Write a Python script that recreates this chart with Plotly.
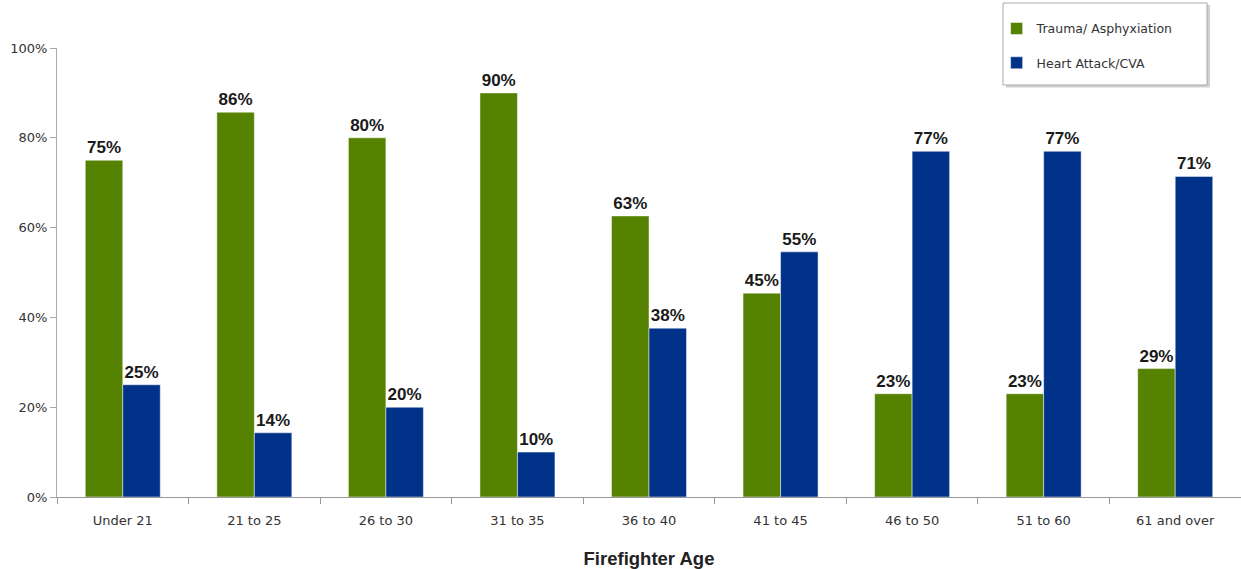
import plotly.graph_objects as go

categories = ["Under 21", "21 to 25", "26 to 30", "31 to 35", "36 to 40",
              "41 to 45", "46 to 50", "51 to 60", "61 and over"]
trauma = [75, 85.7, 80, 90, 62.6, 45.4, 23, 23, 28.6]
heart = [25, 14.3, 20, 10, 37.6, 54.6, 77, 77, 71.4]
ytick_vals = [0, 20, 40, 60, 80, 100]
ytick_text = ["0%", "20%", "40%", "60%", "80%", "100%"]

GREEN = "#558200"
BLUE = "#00328a"
TICKFONT = "DejaVu Sans, Verdana, sans-serif"

fig = go.Figure()
for name, vals, col in [("Trauma/ Asphyxiation", trauma, GREEN),
                        ("Heart Attack/CVA", heart, BLUE)]:
    fig.add_trace(go.Bar(
        x=categories, y=vals, name=name, legendgroup=name,
        marker=dict(color=col, line=dict(color="rgba(255,255,255,0.6)", width=0.8)),
        texttemplate="%{y:.0f}%", textposition="outside", cliponaxis=False,
        textfont=dict(family="Liberation Sans, Arial, sans-serif", size=17,
                      color="#1a1a1a", weight="bold"),
    ))

# legend frame with a soft shadow (paper coordinates)
fig.add_shape(type="rect", xref="paper", yref="paper",
              x0=0.8015, x1=0.9738, y0=0.912, y1=1.096,
              line=dict(width=0), fillcolor="rgba(0,0,0,0.18)", layer="below")
fig.add_shape(type="rect", xref="paper", yref="paper",
              x0=0.799, x1=0.9713, y0=0.9176, y1=1.1002,
              line=dict(color="#aaaaaa", width=1), fillcolor="white", layer="above")

fig.update_layout(
    width=1241, height=569,
    margin=dict(l=57, r=0, t=48, b=72, autoexpand=False),
    paper_bgcolor="white", plot_bgcolor="white",
    barmode="group", bargap=0.43, bargroupgap=0,
    font=dict(family=TICKFONT, size=13, color="#333"),
    showlegend=True,
    legend=dict(
        x=0.7936, y=1.076, xanchor="left", yanchor="top",
        bgcolor="rgba(0,0,0,0)", borderwidth=0,
        font=dict(family=TICKFONT, size=12.5, color="#333"),
        tracegroupgap=15,
    ),
    xaxis=dict(
        title=dict(text="Firefighter Age",
                   font=dict(family="Liberation Sans, Arial, sans-serif",
                             size=18.5, color="#222", weight="bold"), standoff=26),
        automargin=False,
        showline=True, linecolor="#999", linewidth=1,
        ticks="outside", tickson="boundaries", ticklen=6, tickcolor="#999",
        ticklabelstandoff=11, showgrid=False,
        tickfont=dict(family=TICKFONT, size=13, color="#333"),
    ),
    yaxis=dict(
        automargin=False,
        range=[0, 100], tickvals=ytick_vals, ticktext=ytick_text,
        showline=True, linecolor="#aaa", linewidth=1,
        ticks="outside", ticklen=6, tickcolor="#aaa",
        showgrid=False, zeroline=False,
        tickfont=dict(family=TICKFONT, size=13, color="#333"),
    ),
)

fig.write_html("out.html", config={"displayModeBar": False},
               post_script="document.body.style.margin='0';")
